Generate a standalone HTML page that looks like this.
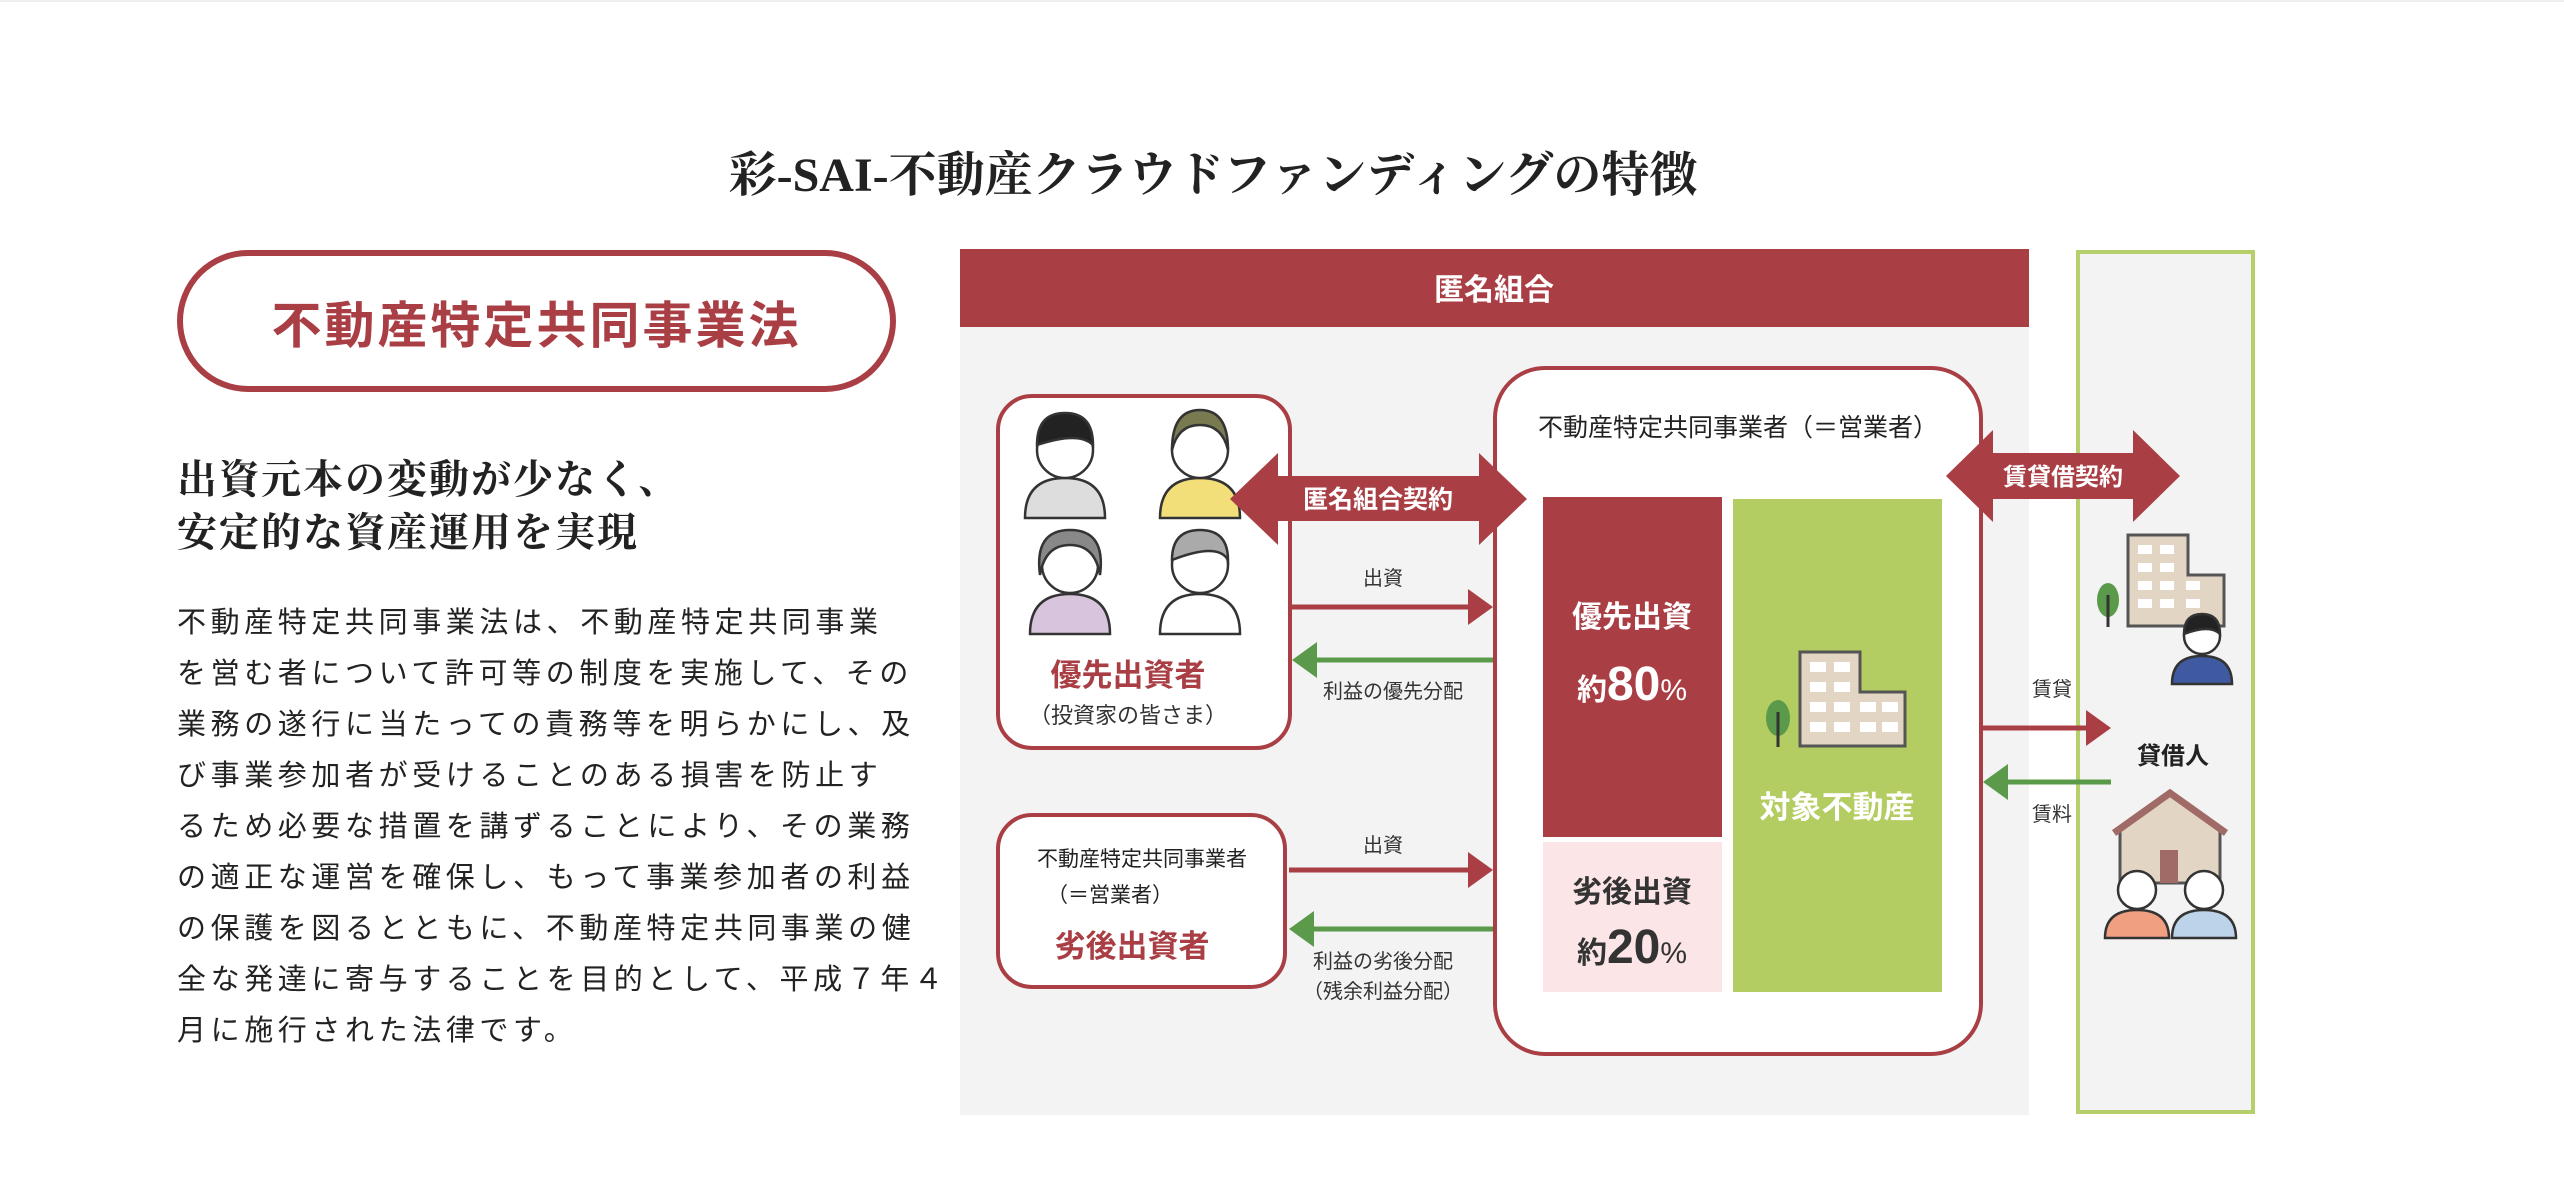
<!DOCTYPE html>
<html><head><meta charset="utf-8"><style>
html,body{margin:0;padding:0;background:#fff;}
body{width:2564px;height:1178px;overflow:hidden;position:relative;font-family:"Liberation Sans","Noto Sans CJK JP",sans-serif;}
.t{position:absolute;white-space:nowrap;}
</style></head><body>
<div style="position:absolute;left:0;top:0;width:2564px;height:2px;background:#eee"></div>
<div class="t" style="left:0;width:2426px;text-align:center;top:136px;font-family:'Liberation Serif','Noto Serif CJK SC',serif;font-weight:bold;font-size:48px;color:#222;">彩-SAI-不動産クラウドファンディングの特徴</div>
<div style="position:absolute;left:177px;top:250px;width:707px;height:130px;border:6px solid #a93f45;border-radius:72px;"></div>
<div class="t" style="left:177px;width:719px;text-align:center;top:286px;font-size:50px;font-weight:bold;color:#a93f45;letter-spacing:3px;">不動産特定共同事業法</div>
<div class="t" style="left:177px;top:453px;font-family:'Liberation Serif','Noto Serif CJK SC',serif;font-weight:bold;font-size:40px;line-height:53px;color:#222;letter-spacing:2px;">出資元本の変動が少なく、<br>安定的な資産運用を実現</div>
<div class="t" style="left:177px;top:598px;font-size:29px;line-height:51px;color:#222;letter-spacing:4.6px;">不動産特定共同事業法は、不動産特定共同事業<br>を営む者について許可等の制度を実施して、その<br>業務の遂行に当たっての責務等を明らかにし、及<br>び事業参加者が受けることのある損害を防止す<br>るため必要な措置を講ずることにより、その業務<br>の適正な運営を確保し、もって事業参加者の利益<br>の保護を図るとともに、不動産特定共同事業の健<br>全な発達に寄与することを目的として、平成７年４<br>月に施行された法律です。</div>

<svg width="2564" height="1178" style="position:absolute;left:0;top:0" font-family="Liberation Sans, Noto Sans CJK JP, sans-serif">
<rect x="960" y="249" width="1069" height="866" fill="#f3f3f3"/>
<rect x="960" y="249" width="1069" height="78" fill="#a93f45"/>
<text x="1494" y="300" fill="#fff" font-size="30" font-weight="bold" text-anchor="middle">匿名組合</text>
<rect x="2078" y="252" width="175" height="860" fill="#f3f3f3" stroke="#b5cf6b" stroke-width="4"/>
<rect x="998" y="396" width="292" height="352" rx="34" fill="#fff" stroke="#a93f45" stroke-width="4"/>
<rect x="998" y="815" width="287" height="172" rx="34" fill="#fff" stroke="#a93f45" stroke-width="4"/>
<rect x="1495" y="368" width="486" height="686" rx="50" fill="#fff" stroke="#a93f45" stroke-width="4"/>
<text x="1738" y="436" font-size="25" fill="#222" text-anchor="middle">不動産特定共同事業者（＝営業者）</text>
<rect x="1543" y="497" width="179" height="340" fill="#a93f45"/>
<rect x="1543" y="842" width="179" height="150" fill="#fbe5e7"/>
<rect x="1733" y="499" width="209" height="493" fill="#b3cd62"/>
<text x="1632" y="627" font-size="30" fill="#fff" font-weight="bold" text-anchor="middle">優先出資</text>
<text x="1632" y="700" fill="#fff" text-anchor="middle"><tspan font-size="30" font-weight="bold">約</tspan><tspan font-size="48" font-weight="bold">80</tspan><tspan font-size="30">%</tspan></text>
<text x="1632" y="902" font-size="30" fill="#333" font-weight="bold" text-anchor="middle">劣後出資</text>
<text x="1632" y="963" fill="#333" text-anchor="middle"><tspan font-size="30" font-weight="bold">約</tspan><tspan font-size="48" font-weight="bold">20</tspan><tspan font-size="30">%</tspan></text>
<text x="1837" y="818" font-size="31" fill="#fff" font-weight="bold" text-anchor="middle">対象不動産</text>
<g>
<path d="M1800 652 h60 v40 h45 v54 h-105 z" fill="#e3d5c3" stroke="#555" stroke-width="3"/>
<g fill="#fff"><rect x="1810" y="662" width="16" height="10"/><rect x="1834" y="662" width="16" height="10"/><rect x="1810" y="682" width="16" height="10"/><rect x="1834" y="682" width="16" height="10"/><rect x="1810" y="702" width="16" height="10"/><rect x="1834" y="702" width="16" height="10"/><rect x="1860" y="702" width="16" height="10"/><rect x="1882" y="702" width="16" height="10"/><rect x="1810" y="722" width="16" height="10"/><rect x="1834" y="722" width="16" height="10"/><rect x="1860" y="722" width="16" height="10"/><rect x="1882" y="722" width="16" height="10"/></g>
<ellipse cx="1778" cy="718" rx="12" ry="18" fill="#5a9a4a"/><line x1="1778" y1="712" x2="1778" y2="747" stroke="#333" stroke-width="3"/>
</g>
<text x="1128" y="686" font-size="31" fill="#a93f45" font-weight="bold" text-anchor="middle">優先出資者</text>
<text x="1128" y="723" font-size="22" fill="#333" text-anchor="middle">（投資家の皆さま）</text>
<text x="1142" y="866" font-size="21" fill="#222" text-anchor="middle">不動産特定共同事業者</text>
<text x="1110" y="902" font-size="21" fill="#222" text-anchor="middle">（＝営業者）</text>
<text x="1132" y="957" font-size="31" fill="#a93f45" font-weight="bold" text-anchor="middle">劣後出資者</text>
<g stroke="#333" stroke-width="2.5">
<path d="M1025 518 q0-40 40-40 q40 0 40 40 z" fill="#ddd"/><circle cx="1065" cy="450" r="28" fill="#fff"/><path d="M1037 445 q0-32 28-32 q28 0 28 32 q-14-14-56 0z" fill="#222"/>
<path d="M1160 518 q0-40 40-40 q40 0 40 40 z" fill="#f2df7a"/><circle cx="1200" cy="450" r="28" fill="#fff"/><path d="M1172 450 q0-40 28-40 q28 0 28 40 q-6-25-28-25 q-22 0-28 25z" fill="#7a7a50"/>
<path d="M1030 634 q0-40 40-40 q40 0 40 40 z" fill="#d9c4dd"/><circle cx="1070" cy="565" r="28" fill="#fff"/><path d="M1040 575 q-6-45 30-45 q36 0 30 45 q-5-30-30-30 q-25 0-30 30z" fill="#888"/>
<path d="M1160 634 q0-40 40-40 q40 0 40 40 z" fill="#fff"/><circle cx="1200" cy="565" r="28" fill="#fff"/><path d="M1172 560 q0-30 28-30 q28 0 28 30 q-10-18-56 0z" fill="#aaa"/>
</g>
<polygon points="1230,499 1278,453 1278,476 1479,476 1479,453 1527,499 1479,545 1479,521 1278,521 1278,545" fill="#a93f45"/>
<text x="1378" y="508" font-size="25" fill="#fff" font-weight="bold" text-anchor="middle">匿名組合契約</text>
<polygon points="1946,476 1993,430 1993,453 2133,453 2133,430 2180,476 2133,522 2133,499 1993,499 1993,522" fill="#a93f45"/>
<text x="2063" y="485" font-size="24" fill="#fff" font-weight="bold" text-anchor="middle">賃貸借契約</text>
<g stroke-width="5">
<line x1="1292" y1="607" x2="1470" y2="607" stroke="#a93f45"/><polygon points="1468,589 1493,607 1468,625" fill="#a93f45"/>
<line x1="1315" y1="660" x2="1493" y2="660" stroke="#5a9a4a"/><polygon points="1317,642 1292,660 1317,678" fill="#5a9a4a"/>
<line x1="1289" y1="870" x2="1470" y2="870" stroke="#a93f45"/><polygon points="1468,852 1493,870 1468,888" fill="#a93f45"/>
<line x1="1312" y1="929" x2="1493" y2="929" stroke="#5a9a4a"/><polygon points="1314,911 1289,929 1314,947" fill="#5a9a4a"/>
<line x1="1983" y1="728" x2="2088" y2="728" stroke="#a93f45"/><polygon points="2086,710 2111,728 2086,746" fill="#a93f45"/>
<line x1="2006" y1="782" x2="2111" y2="782" stroke="#5a9a4a"/><polygon points="2008,764 1983,782 2008,800" fill="#5a9a4a"/>
</g>
<g font-size="20" fill="#333" text-anchor="middle">
<text x="1383" y="585">出資</text>
<text x="1393" y="698">利益の優先分配</text>
<text x="1383" y="852">出資</text>
<text x="1383" y="968">利益の劣後分配</text>
<text x="1383" y="998">（残余利益分配）</text>
<text x="2052" y="696">賃貸</text>
<text x="2052" y="821">賃料</text>
</g>
<text x="2173" y="764" font-size="24" fill="#222" font-weight="bold" text-anchor="middle">貸借人</text>
<path d="M2128 535 h60 v40 h36 v51 h-96 z" fill="#e3d5c3" stroke="#555" stroke-width="3"/>
<g fill="#fff"><rect x="2138" y="545" width="14" height="9"/><rect x="2160" y="545" width="14" height="9"/><rect x="2138" y="563" width="14" height="9"/><rect x="2160" y="563" width="14" height="9"/><rect x="2138" y="581" width="14" height="9"/><rect x="2160" y="581" width="14" height="9"/><rect x="2186" y="581" width="14" height="9"/><rect x="2138" y="599" width="14" height="9"/><rect x="2160" y="599" width="14" height="9"/><rect x="2186" y="599" width="14" height="9"/></g>
<ellipse cx="2108" cy="600" rx="11" ry="17" fill="#5a9a4a"/><line x1="2108" y1="595" x2="2108" y2="627" stroke="#333" stroke-width="3"/>
<g stroke="#333" stroke-width="2.5"><path d="M2172 684 q0-28 30-28 q30 0 30 28z" fill="#3f5aa0"/><circle cx="2202" cy="636" r="18" fill="#fff"/><path d="M2184 634 q0-20 18-20 q18 0 18 20 q-10-10-36 0z" fill="#222"/></g>
<path d="M2120 830 l50-35 l50 35 v53 h-100 z" fill="#e3d5c3" stroke="#555" stroke-width="3"/>
<path d="M2114 833 l56-40 l56 40" fill="none" stroke="#a06a66" stroke-width="7"/>
<rect x="2160" y="850" width="18" height="33" fill="#a06a66"/>
<g stroke="#333" stroke-width="2.5"><path d="M2105 938 q0-28 32-28 q32 0 32 28z" fill="#f0a080"/><circle cx="2137" cy="890" r="19" fill="#fff"/><path d="M2172 938 q0-28 32-28 q32 0 32 28z" fill="#bcd3ea"/><circle cx="2204" cy="890" r="19" fill="#fff"/></g>
</svg>
</body></html>
